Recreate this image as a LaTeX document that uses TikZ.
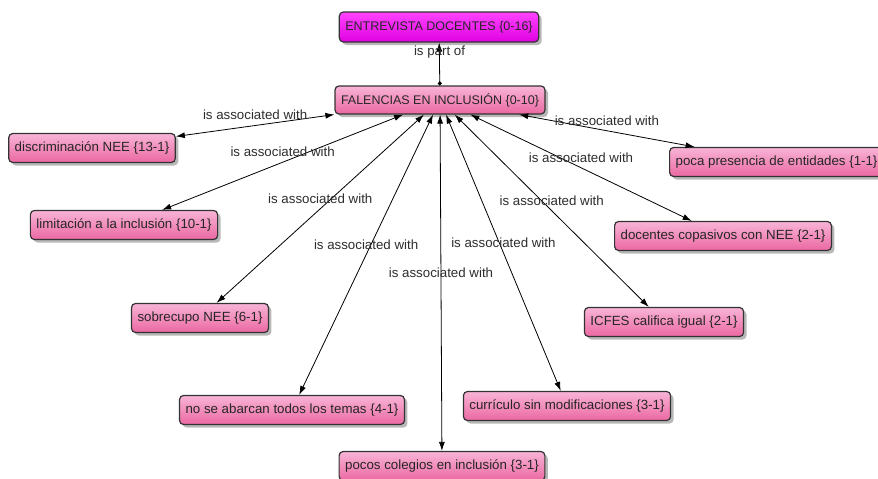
\documentclass[tikz,border=0pt]{standalone}
\usepackage{fontspec}
\setmainfont{Liberation Sans}
\usetikzlibrary{arrows.meta,shadows}

\definecolor{codetop}{HTML}{F8B4D6}
\definecolor{codebottom}{HTML}{EB68A2}
\definecolor{doctop}{HTML}{FF44FF}
\definecolor{docbottom}{HTML}{E000E0}
\definecolor{boxline}{HTML}{333333}
\definecolor{linktext}{HTML}{2E2E2E}

\begin{document}
\begin{tikzpicture}[x=1pt, y=-1pt,
  code/.style={draw=boxline, line width=1.2pt, rounded corners=4pt,
    top color=codetop, bottom color=codebottom,
    drop shadow={shadow xshift=3pt, shadow yshift=-3pt, fill=black!55},
    minimum height=29pt, inner xsep=6pt, text=black!85,
    font=\fontsize{13.3}{15}\selectfont},
  main/.style={code, font=\fontsize{12.5}{14}\selectfont, minimum height=28pt},
  doc/.style={main, top color=doctop, bottom color=docbottom, minimum height=30pt},
  link/.style={draw=black, line width=0.8pt,
    {Latex[length=9pt,width=6pt]}-{Latex[length=9pt,width=6pt]}},
  partof/.style={draw=black, line width=0.8pt,
    {Circle[length=4pt]}-{Latex[length=9pt,width=6pt]}},
  lbl/.style={text=linktext, inner sep=1pt, above=4pt,
    font=\fontsize{13.3}{15}\selectfont}]

  % Page size of the network view
  \useasboundingbox[fill=white] (0,0) rectangle (878,479);

  % Document and main code
  \node[doc]  (entrevista) at (439,27)  {ENTREVISTA DOCENTES \{0-16\}};
  \node[main] (falencias)  at (440,100) {FALENCIAS EN INCLUSIÓN \{0-10\}};

  % Associated codes, left side
  \node[code] (discriminacion) at (92,148)  {discriminación NEE \{13-1\}};
  \node[code] (limitacion)     at (124,225) {limitación a la inclusión \{10-1\}};
  \node[code] (sobrecupo)      at (200,318) {sobrecupo NEE \{6-1\}};
  \node[code] (temas)          at (292,410) {no se abarcan todos los temas \{4-1\}};
  \node[code] (colegios)       at (442,466) {pocos colegios en inclusión \{3-1\}};

  % Associated codes, right side
  \node[code] (curriculo) at (567,406) {currículo sin modificaciones \{3-1\}};
  \node[code] (icfes)     at (664,322) {ICFES califica igual \{2-1\}};
  \node[code] (copasivos) at (723,236) {docentes copasivos con NEE \{2-1\}};
  \node[code, anchor=west] (presencia) at (669,162) {poca presencia de entidades \{1-1\}};

  % The main code is part of the document
  \draw[partof] (falencias) -- node[lbl] (lbl-entrevista) {is part of} (entrevista);

  % Associations between the main code and the others
  \draw[link] (falencias) -- node[lbl] (lbl-discriminacion) {is associated with} (discriminacion);
  \draw[link] (falencias) -- node[lbl] (lbl-limitacion) {is associated with} (limitacion);
  \draw[link] (falencias) -- node[lbl] (lbl-sobrecupo) {is associated with} (sobrecupo);
  \draw[link] (falencias) -- node[lbl] (lbl-temas) {is associated with} (temas);
  \draw[link] (falencias) -- node[lbl] (lbl-colegios) {is associated with} (colegios);
  \draw[link] (falencias) -- node[lbl] (lbl-curriculo) {is associated with} (curriculo);
  \draw[link] (falencias) -- node[lbl] (lbl-icfes) {is associated with} (icfes);
  \draw[link] (falencias) -- node[lbl] (lbl-copasivos) {is associated with} (copasivos);
  \draw[link] (falencias) -- node[lbl] (lbl-presencia) {is associated with} (presencia);
\end{tikzpicture}
\end{document}
